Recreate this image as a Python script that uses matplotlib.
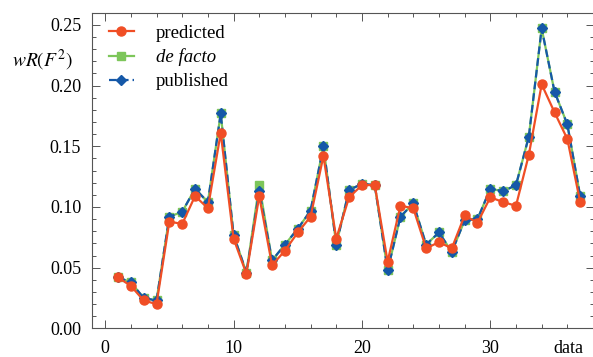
import numpy as np
import matplotlib
matplotlib.use("Agg")
import matplotlib.pyplot as plt
from matplotlib.ticker import MultipleLocator

plt.rcParams['font.family'] = ['Liberation Serif', 'DejaVu Serif']
plt.rcParams['mathtext.fontset'] = 'stix'
plt.rcParams['font.size'] = 13

# wR(F^2) per data set
data_idx = np.arange(1, 38)
predicted = [0.042, 0.035, 0.023, 0.020, 0.088, 0.086, 0.109, 0.099, 0.161, 0.074,
             0.045, 0.109, 0.052, 0.064, 0.079, 0.092, 0.142, 0.074, 0.108, 0.118,
             0.118, 0.055, 0.101, 0.099, 0.066, 0.071, 0.066, 0.093, 0.087, 0.108,
             0.104, 0.101, 0.143, 0.201, 0.178, 0.156, 0.104]
published = [0.042, 0.038, 0.025, 0.023, 0.092, 0.096, 0.115, 0.104, 0.177, 0.077,
             0.046, 0.113, 0.056, 0.069, 0.082, 0.097, 0.150, 0.069, 0.114, 0.119,
             0.118, 0.048, 0.092, 0.103, 0.069, 0.079, 0.063, 0.089, 0.090, 0.115,
             0.113, 0.118, 0.158, 0.247, 0.195, 0.168, 0.109]
defacto = list(published)
defacto[11] = 0.118

red = '#F04E25'
green = '#7DC65A'
blue = '#1558A8'

fig = plt.figure(figsize=(5.93, 3.57), dpi=100)
ax = fig.add_axes([0.1557, 0.0801, 0.8465, 0.8843])

l_df, = ax.plot(data_idx, defacto, '-s', color=green, lw=1.6, ms=5.5, label='de facto', zorder=2)
l_pub, = ax.plot(data_idx, published, 'D', ls=(0, (3.5, 1.8)), color=blue, lw=1.6, ms=5,
                 label='published', zorder=3)
l_pred, = ax.plot(data_idx, predicted, '-o', color=red, lw=1.6, ms=6.5, label='predicted', zorder=4)

ax.set_xlim(-1, 38.1)
ax.set_ylim(0, 0.26)
ax.set_xticks([0, 10, 20, 30])
ax.xaxis.set_minor_locator(MultipleLocator(2))
ax.set_yticks(np.arange(0, 0.26, 0.05))
ax.yaxis.set_minor_locator(MultipleLocator(0.01))
ax.yaxis.set_major_formatter(matplotlib.ticker.FormatStrFormatter('%.2f'))

for s in ax.spines.values():
    s.set_color('#555555')
    s.set_linewidth(0.8)
ax.tick_params(which='both', direction='in', top=True, right=True, color='#555555',
               width=0.7, labelsize=13, pad=8)
ax.tick_params(which='major', length=5.5)
ax.tick_params(which='minor', length=3)

ax.set_ylabel(r'$wR(F^2)$', rotation=0, fontsize=14, va='center')
ax.yaxis.set_label_coords(-0.10, 0.85)
ax.set_xlabel('data')
ax.xaxis.set_label_coords(0.9475, -0.036)
ax.xaxis.label.set_verticalalignment('top')

leg = ax.legend([l_pred, l_df, l_pub], ['predicted', 'de facto', 'published'],
                loc='upper left', bbox_to_anchor=(0.0, 1.015), frameon=False,
                handlelength=1.3, handletextpad=1.2, labelspacing=0.35, fontsize=13.5)
leg.get_texts()[1].set_fontstyle('italic')

fig.savefig('out.png', dpi=100)
